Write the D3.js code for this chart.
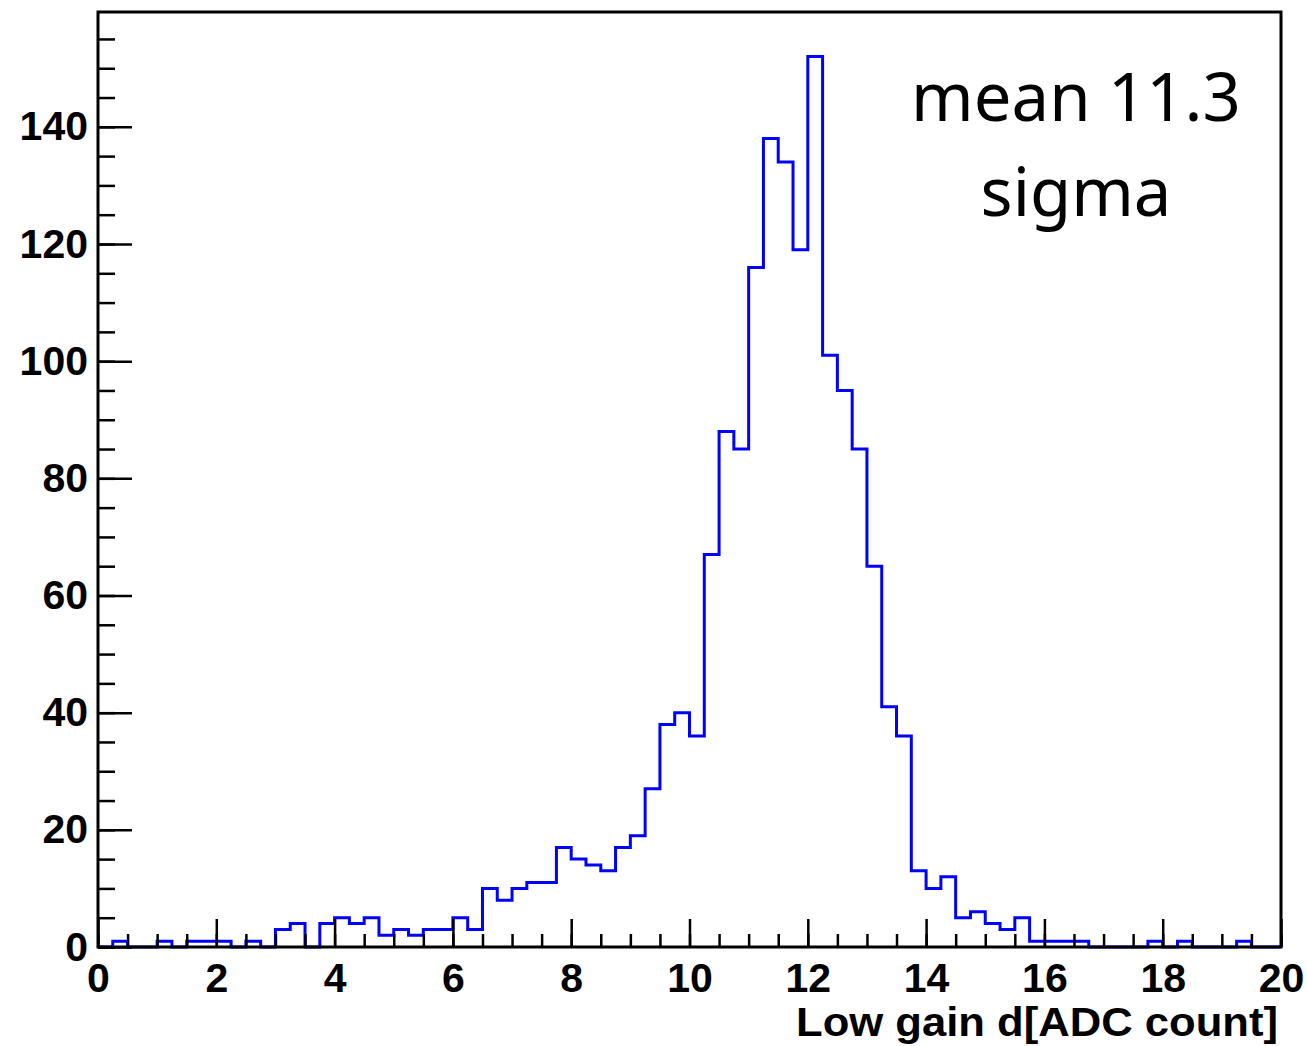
<!DOCTYPE html>
<html>
<head>
<meta charset="utf-8">
<script src="https://cdn.jsdelivr.net/npm/d3@7"></script>
<style>
  body { margin: 0; background: #fff; }
  svg { display: block; }
</style>
</head>
<body>
<div id="graph-wrapper"></div>
<script>
// histogram of low gain d[ADC count], 80 bins of 0.25 from 0 to 20
const binWidth = 0.25;
const counts = [
  0, 1, 0, 0, 1, 0, 1, 1, 1, 0, 1, 0, 3, 4, 0, 4,
  5, 4, 5, 2, 3, 2, 3, 3, 5, 3, 10, 8, 10, 11, 11, 17,
  15, 14, 13, 17, 19, 27, 38, 40, 36, 67, 88, 85, 116, 138, 134, 119,
  152, 101, 95, 85, 65, 41, 36, 13, 10, 12, 5, 6, 4, 3, 5, 1,
  1, 1, 1, 0, 0, 0, 0, 1, 0, 1, 0, 0, 0, 1, 0, 0
];
const xMajorTicks = [0, 2, 4, 6, 8, 10, 12, 14, 16, 18, 20];
const yMajorTicks = [0, 20, 40, 60, 80, 100, 120, 140];
const xTitle = 'Low gain d[ADC count]';
const statLines = ['mean 11.3', 'sigma'];

const width = 1307;
const height = 1046;
const marginTop = 12;
const marginRight = 26;
const marginBottom = 99;
const marginLeft = 98;

const x = d3.scaleLinear().domain([0, 20]).range([marginLeft, width - marginRight]);
const y = d3.scaleLinear().domain([0, 159.6]).range([height - marginBottom, marginTop]);

const svg = d3.select('#graph-wrapper').append('svg')
    .attr('width', width)
    .attr('height', height);

// histogram outline
const pts = counts.map((c, i) => [i * binWidth, c]);
pts.push([counts.length * binWidth, counts[counts.length - 1]]);
const line = d3.line()
    .x(d => x(d[0]))
    .y(d => y(d[1]))
    .curve(d3.curveStepAfter);

svg.append('path')
    .datum(pts)
    .attr('fill', 'none')
    .attr('stroke', '#0000ff')
    .attr('stroke-width', 3)
    .attr('d', line);

const labelFont = '"Liberation Sans", Arial, sans-serif';

// minor ticks on x
svg.append('g')
    .attr('transform', `translate(0,${y(0)})`)
    .call(d3.axisBottom(x).tickValues(d3.range(0, 20.01, 0.5)).tickSize(-13).tickFormat(''))
    .call(g => g.select('.domain').remove())
    .call(g => g.selectAll('line').attr('stroke-width', 2.5));

// major ticks on x
svg.append('g')
    .attr('id', 'x-axis')
    .attr('transform', `translate(0,${y(0)})`)
    .call(d3.axisBottom(x).tickValues(xMajorTicks).tickSize(-28).tickPadding(16).tickFormat(d3.format('d')))
    .call(g => g.select('.domain').remove())
    .call(g => g.selectAll('line').attr('stroke-width', 2.5))
    .call(g => g.selectAll('text')
        .attr('fill', '#000')
        .style('font-family', labelFont)
        .style('font-weight', 'bold')
        .style('font-size', '41px'));

// minor ticks on y
svg.append('g')
    .attr('transform', `translate(${x(0)},0)`)
    .call(d3.axisLeft(y).tickValues(d3.range(0, 156, 5)).tickSize(-17).tickFormat(''))
    .call(g => g.select('.domain').remove())
    .call(g => g.selectAll('line').attr('stroke-width', 2.5));

// major ticks on y
svg.append('g')
    .attr('id', 'y-axis')
    .attr('transform', `translate(${x(0)},0)`)
    .call(d3.axisLeft(y).tickValues(yMajorTicks).tickSize(-34).tickPadding(10).tickFormat(d3.format('d')))
    .call(g => g.select('.domain').remove())
    .call(g => g.selectAll('line').attr('stroke-width', 2.5))
    .call(g => g.selectAll('text')
        .attr('fill', '#000')
        .style('font-family', labelFont)
        .style('font-weight', 'bold')
        .style('font-size', '41px'));

// frame
svg.append('rect')
    .attr('x', x(0))
    .attr('y', y(159.6))
    .attr('width', x(20) - x(0))
    .attr('height', y(0) - y(159.6))
    .attr('fill', 'none')
    .attr('stroke', '#000')
    .attr('stroke-width', 3);

// x title
svg.append('text')
    .text(xTitle)
    .attr('x', x(20) - 3)
    .attr('y', 1036)
    .attr('text-anchor', 'end')
    .attr('textLength', 482)
    .attr('lengthAdjust', 'spacingAndGlyphs')
    .style('font-family', labelFont)
    .style('font-weight', 'bold')
    .style('font-size', '41px');

// stats text
svg.selectAll('.stat')
  .data(statLines)
  .join('text')
    .attr('class', 'stat')
    .text(d => d)
    .attr('x', 1076)
    .attr('y', (d, i) => 121 + i * 95)
    .attr('text-anchor', 'middle')
    .style('font-family', '"Noto Sans", sans-serif')
    .style('font-size', '67px');
</script>
</body>
</html>
